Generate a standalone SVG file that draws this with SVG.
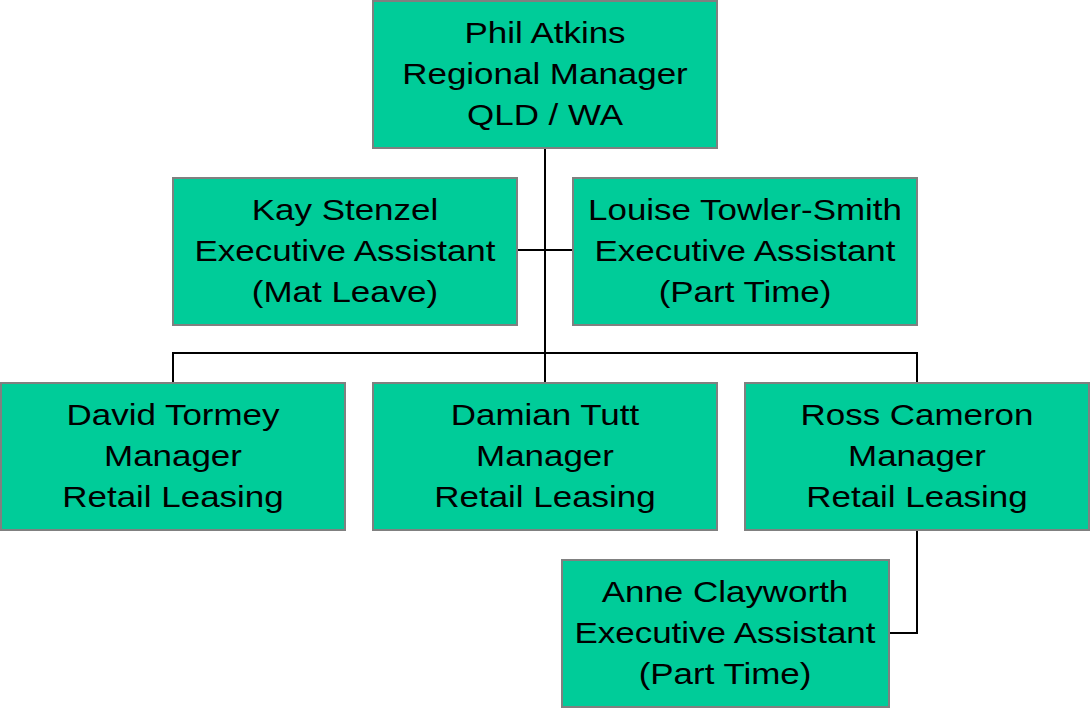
<svg xmlns="http://www.w3.org/2000/svg" width="1091" height="708" viewBox="0 0 1091 708">
<style>
.box{fill:#00CC99;stroke:#808080;stroke-width:2}
.t{font-family:"Liberation Sans",Arial,sans-serif;font-size:30px;fill:#000;text-anchor:middle}
.c{fill:none;stroke:#000;stroke-width:2}
</style>
<rect width="1091" height="708" fill="#fff"/>
<g id="connectors">
<path class="c" d="M545 148V383M517 250H573M173 383V353H917V383M917 530V633H889"/>
</g>
<g id="phil"><rect class="box" x="373" y="1" width="344" height="147"/>
<g class="t" transform="translate(545,1) scale(1.165,1)"><text x="0" y="42">Phil Atkins</text><text x="0" y="83">Regional Manager</text><text x="0" y="124">QLD / WA</text></g></g>
<g id="kay"><rect class="box" x="173" y="178" width="344" height="147"/>
<g class="t" transform="translate(345,178) scale(1.165,1)"><text x="0" y="42">Kay Stenzel</text><text x="0" y="83">Executive Assistant</text><text x="0" y="124">(Mat Leave)</text></g></g>
<g id="louise"><rect class="box" x="573" y="178" width="344" height="147"/>
<g class="t" transform="translate(745,178) scale(1.165,1)"><text x="0" y="42">Louise Towler-Smith</text><text x="0" y="83">Executive Assistant</text><text x="0" y="124">(Part Time)</text></g></g>
<g id="david"><rect class="box" x="1" y="383" width="344" height="147"/>
<g class="t" transform="translate(173,383) scale(1.165,1)"><text x="0" y="42">David Tormey</text><text x="0" y="83">Manager</text><text x="0" y="124">Retail Leasing</text></g></g>
<g id="damian"><rect class="box" x="373" y="383" width="344" height="147"/>
<g class="t" transform="translate(545,383) scale(1.165,1)"><text x="0" y="42">Damian Tutt</text><text x="0" y="83">Manager</text><text x="0" y="124">Retail Leasing</text></g></g>
<g id="ross"><rect class="box" x="745" y="383" width="344" height="147"/>
<g class="t" transform="translate(917,383) scale(1.165,1)"><text x="0" y="42">Ross Cameron</text><text x="0" y="83">Manager</text><text x="0" y="124">Retail Leasing</text></g></g>
<g id="anne"><rect class="box" x="562" y="560" width="327" height="147"/>
<g class="t" transform="translate(725,560) scale(1.165,1)"><text x="0" y="42">Anne Clayworth</text><text x="0" y="83">Executive Assistant</text><text x="0" y="124">(Part Time)</text></g></g>
</svg>
